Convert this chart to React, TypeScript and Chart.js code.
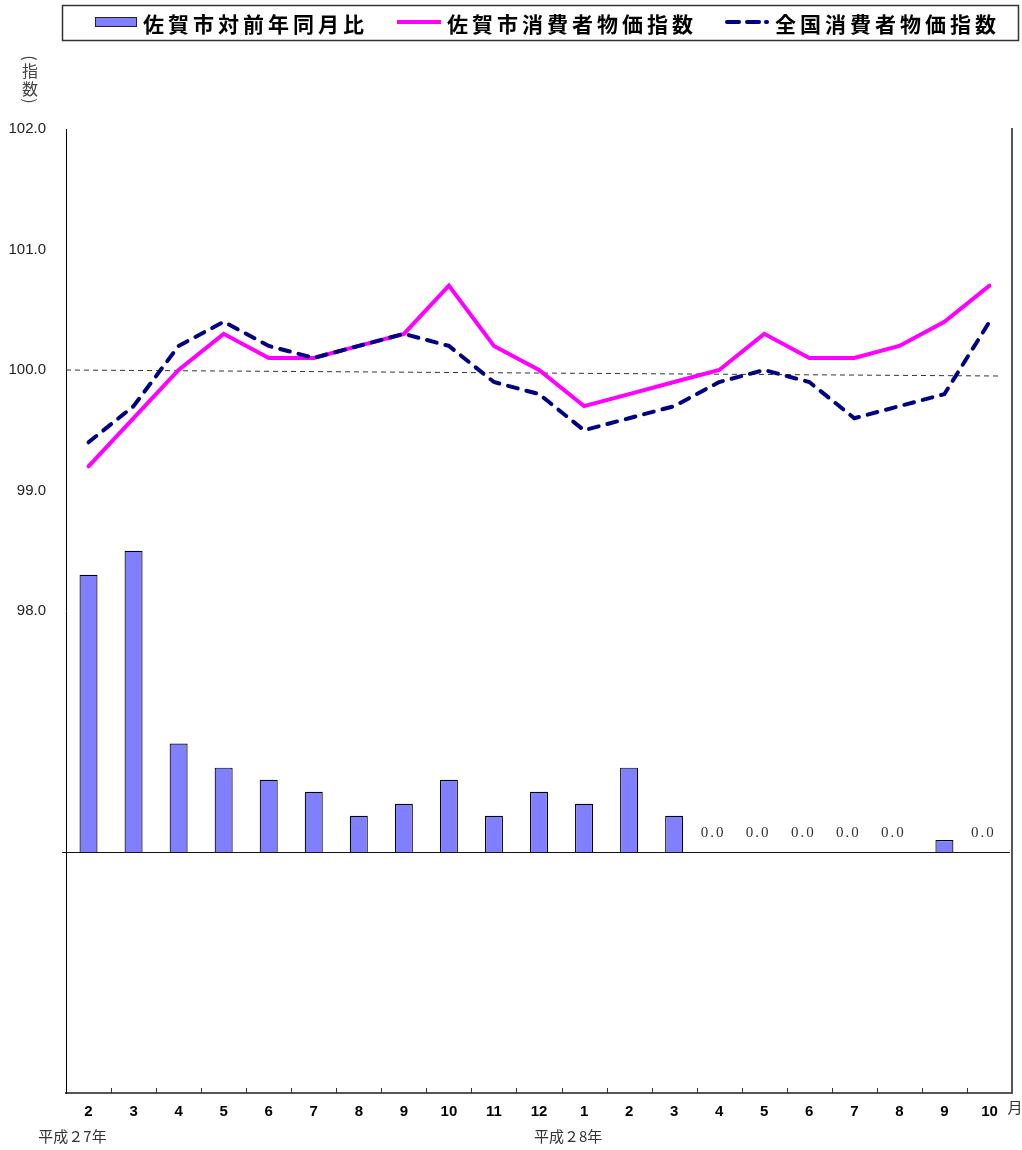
import React, { useEffect, useRef } from "react";
import { Chart, registerables } from "chart.js";

Chart.register(...registerables);

// ---- data ----
const months = ["2", "3", "4", "5", "6", "7", "8", "9", "10", "11", "12", "1", "2", "3", "4", "5", "6", "7", "8", "9", "10"];
const sagaYoY = [2.3, 2.5, 0.9, 0.7, 0.6, 0.5, 0.3, 0.4, 0.6, 0.3, 0.5, 0.4, 0.7, 0.3, 0.0, 0.0, 0.0, 0.0, 0.0, 0.1, 0.0];
const sagaCPI = [99.2, 99.6, 100.0, 100.3, 100.1, 100.1, 100.2, 100.3, 100.7, 100.2, 100.0, 99.7, 99.8, 99.9, 100.0, 100.3, 100.1, 100.1, 100.2, 100.4, 100.7];
const nationalCPI = [99.4, 99.7, 100.2, 100.4, 100.2, 100.1, 100.2, 100.3, 100.2, 99.9, 99.8, 99.5, 99.6, 99.7, 99.9, 100.0, 99.9, 99.6, 99.7, 99.8, 100.4];
const seriesNames = ["佐賀市対前年同月比", "佐賀市消費者物価指数", "全国消費者物価指数"];
const yearLabels = ["平成２7年", "平成２8年"];
const yearLabelIndex = [0, 11];
const baseLine = [100.0, 99.95];
const indexRange = [94, 102];
const indexTickMin = 98;
const yoyRange = [-2, 6];
const yAxisTitle = ["指", "数"];
const monthUnit = "月";

const BAR_COLOR = "#8080FF";
const SAGA_COLOR = "#FF00FF";
const NATION_COLOR = "#000080";
const CJK = '"Noto Sans CJK JP", "Noto Sans", sans-serif';

const decorPlugin = {
  id: "decor",
  beforeDatasetsDraw(chart: any) {
    const ctx = chart.ctx;
    const { left, right } = chart.chartArea;
    const y = chart.scales.y;
    const y1 = chart.scales.y1;
    const x = chart.scales.x;
    ctx.save();
    // dashed 100 reference line
    ctx.strokeStyle = "#333";
    ctx.lineWidth = 1;
    ctx.setLineDash([5, 4]);
    ctx.beginPath();
    ctx.moveTo(left, y.getPixelForValue(baseLine[0]));
    ctx.lineTo(x.getPixelForValue(months.length - 1) + 12, y.getPixelForValue(baseLine[1]));
    ctx.stroke();
    ctx.setLineDash([]);
    // zero line for bars
    const zy = Math.round(y1.getPixelForValue(0)) + 0.5;
    ctx.strokeStyle = "#111";
    ctx.beginPath();
    ctx.moveTo(left - 4, zy);
    ctx.lineTo(right - 2, zy);
    ctx.stroke();
    ctx.restore();
  },
  afterDraw(chart: any) {
    const ctx = chart.ctx;
    const { right, bottom } = chart.chartArea;
    const x = chart.scales.x;
    const y1 = chart.scales.y1;
    ctx.save();
    // inward tick marks between categories
    ctx.strokeStyle = "#333";
    ctx.lineWidth = 1;
    for (let i = 1; i < months.length; i++) {
      const px = Math.round((x.getPixelForValue(i - 1) + x.getPixelForValue(i)) / 2) + 0.5;
      ctx.beginPath();
      ctx.moveTo(px, bottom - 5);
      ctx.lineTo(px, bottom);
      ctx.stroke();
    }
    // zero value labels
    ctx.fillStyle = "#333";
    ctx.font = '15px "Liberation Serif", "DejaVu Serif", serif';
    (ctx as any).letterSpacing = "2px";
    ctx.textAlign = "center";
    ctx.textBaseline = "middle";
    sagaYoY.forEach((v, i) => {
      if (v === 0) {
        ctx.fillText(v.toFixed(1), x.getPixelForValue(i) - 6, y1.getPixelForValue(0) - 19);
      }
    });
    (ctx as any).letterSpacing = "0px";
    // year labels
    ctx.font = "15px " + CJK;
    ctx.fillStyle = "#333";
    yearLabels.forEach((t, k) => {
      ctx.fillText(t, x.getPixelForValue(yearLabelIndex[k]) - 16, bottom + 43);
    });
    // month unit
    ctx.fillText(monthUnit, right + 3, bottom + 14);
    // y axis title (vertical) with rotated parentheses
    ctx.font = "16px " + CJK;
    ctx.fillStyle = "#444";
    ctx.fillText(yAxisTitle[0], 30, 71);
    ctx.fillText(yAxisTitle[1], 30, 89);
    ctx.save();
    ctx.translate(30, 58);
    ctx.rotate(Math.PI / 2);
    ctx.fillText("(", 0, 0);
    ctx.restore();
    ctx.save();
    ctx.translate(30, 101);
    ctx.rotate(Math.PI / 2);
    ctx.fillText(")", 0, 0);
    ctx.restore();

    // legend
    ctx.strokeStyle = "#333";
    ctx.lineWidth = 1.5;
    ctx.strokeRect(62.5, 5.5, 956, 35);
    ctx.fillStyle = BAR_COLOR;
    ctx.fillRect(95, 17, 42, 10);
    ctx.strokeStyle = "#222";
    ctx.lineWidth = 1;
    ctx.strokeRect(95.5, 17.5, 41, 9);
    ctx.lineWidth = 4;
    ctx.strokeStyle = SAGA_COLOR;
    ctx.beginPath();
    ctx.moveTo(397, 22);
    ctx.lineTo(441, 22);
    ctx.stroke();
    ctx.strokeStyle = NATION_COLOR;
    ctx.lineCap = "round";
    [[727, 739], [747, 759], [766, 767]].forEach(([a, b]) => {
      ctx.beginPath();
      ctx.moveTo(a, 22);
      ctx.lineTo(b, 22);
      ctx.stroke();
    });
    ctx.lineCap = "butt";
    ctx.fillStyle = "#000";
    ctx.font = "bold 21px " + CJK;
    (ctx as any).letterSpacing = "4px";
    ctx.textAlign = "left";
    ctx.textBaseline = "middle";
    ctx.fillText(seriesNames[0], 143, 24);
    ctx.fillText(seriesNames[1], 447, 24);
    ctx.fillText(seriesNames[2], 775, 24);
    (ctx as any).letterSpacing = "0px";
    ctx.restore();
  },
};

export default function App() {
  const ref = useRef<HTMLCanvasElement | null>(null);
  useEffect(() => {
    if (!ref.current) return;
    const chart = new Chart(ref.current, {
      type: "bar",
      data: {
        labels: months,
        datasets: [
          {
            type: "line",
            label: seriesNames[1],
            data: sagaCPI,
            yAxisID: "y",
            borderColor: SAGA_COLOR,
            backgroundColor: SAGA_COLOR,
            borderWidth: 4,
            pointRadius: 0,
            tension: 0,
            borderCapStyle: "round",
            order: 1,
          } as any,
          {
            type: "line",
            label: seriesNames[2],
            data: nationalCPI,
            yAxisID: "y",
            borderColor: NATION_COLOR,
            backgroundColor: NATION_COLOR,
            borderWidth: 4,
            borderDash: [10, 9],
            borderCapStyle: "round",
            pointRadius: 0,
            tension: 0,
            order: 0,
          } as any,
          {
            type: "bar",
            label: seriesNames[0],
            data: sagaYoY,
            yAxisID: "y1",
            backgroundColor: BAR_COLOR,
            borderColor: "#000",
            borderWidth: 1.2,
            barPercentage: 0.4,
            categoryPercentage: 1,
            order: 2,
          } as any,
        ],
      },
      options: {
        responsive: false,
        animation: false,
        devicePixelRatio: 1,
        layout: { padding: { top: 129, left: 0, right: 0, bottom: 0 } },
        plugins: { legend: { display: false }, tooltip: { enabled: false } },
        scales: {
          x: {
            offset: true,
            grid: { display: false, drawTicks: false },
            border: { display: true, color: "#555", width: 2 },
            ticks: {
              color: "#000",
              padding: 10,
              maxRotation: 0,
              autoSkip: false,
              font: { family: '"Liberation Sans", Arial, sans-serif', size: 15, weight: "bold" },
            },
            afterFit: (s: any) => {
              s.height = 57;
            },
          },
          y: {
            position: "left",
            min: indexRange[0],
            max: indexRange[1],
            grid: { display: false, drawTicks: false },
            border: { display: true, color: "#000", width: 1 },
            ticks: {
              stepSize: 1,
              padding: 20,
              color: "#222",
              font: { family: '"Liberation Sans", Arial, sans-serif', size: 15 },
              callback: (v: any) => (Number(v) >= indexTickMin ? Number(v).toFixed(1) : ""),
            },
            afterFit: (s: any) => {
              s.width = 66;
            },
          },
          y1: {
            position: "right",
            min: yoyRange[0],
            max: yoyRange[1],
            grid: { display: false, drawTicks: false },
            border: { display: true, color: "#555", width: 2 },
            ticks: { display: false },
            afterFit: (s: any) => {
              s.width = 10;
            },
          },
        },
      } as any,
      plugins: [decorPlugin],
    });
    return () => chart.destroy();
  }, []);
  return (
    <div style={{ position: "absolute", left: 0, top: 0, width: 1022, height: 1150, background: "#fff" }}>
      <canvas ref={ref} width={1022} height={1150} style={{ display: "block" }} />
    </div>
  );
}
